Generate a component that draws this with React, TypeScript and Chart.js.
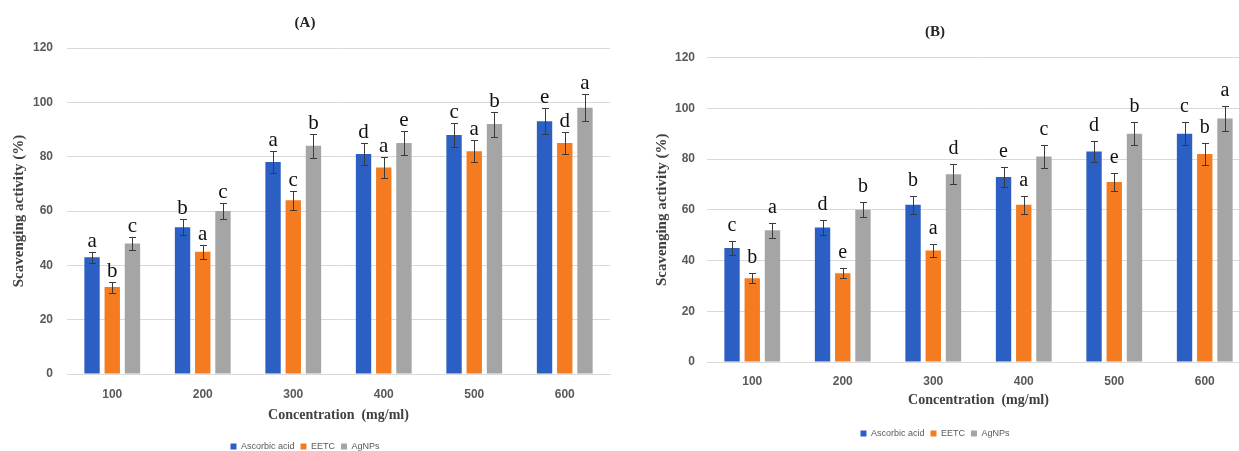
import React, { useEffect, useRef } from "react";
import { Chart, registerables } from "chart.js";

Chart.register(...registerables);

// ---------- data ----------
const categories = ["100", "200", "300", "400", "500", "600"];
const seriesNames = ["Ascorbic acid", "EETC", "AgNPs"];
const seriesColors = ["#2B5FC3", "#F47B20", "#A5A5A5"];

// Panel (A)
const aAscorbic = [43, 54, 78, 81, 88, 93];
const aEETC = [32, 45, 64, 76, 82, 85];
const aAgNPs = [48, 60, 84, 85, 92, 98];
const aAscorbicErr = [2, 3, 4, 4, 4.5, 4.8];
const aEETCErr = [2, 2.5, 3.5, 4, 4, 4.2];
const aAgNPsErr = [2.5, 3, 4.4, 4.3, 4.6, 5];
const aAscorbicLetters = ["a", "b", "a", "d", "c", "e"];
const aEETCLetters = ["b", "a", "c", "a", "a", "d"];
const aAgNPsLetters = ["c", "c", "b", "e", "b", "a"];

// Panel (B)
const bAscorbic = [45, 53, 62, 73, 83, 90];
const bEETC = [33, 35, 44, 62, 71, 82];
const bAgNPs = [52, 60, 74, 81, 90, 96];
const bAscorbicErr = [2.7, 3, 3.5, 4, 4, 4.5];
const bEETCErr = [2, 2, 2.5, 3.5, 3.6, 4.5];
const bAgNPsErr = [3, 3, 4, 4.5, 4.5, 5];
const bAscorbicLetters = ["c", "d", "b", "e", "d", "c"];
const bEETCLetters = ["b", "e", "a", "a", "e", "b"];
const bAgNPsLetters = ["a", "b", "d", "c", "b", "a"];

const yMin = 0;
const yMax = 120;
const yStep = 20;

const xTitle = "Concentration  (mg/ml)";
const yTitle = "Scavenging activity (%)";

// ---------- plugin: error bars + significance letters ----------
const errLetterPlugin = {
  id: "errLetters",
  afterDatasetsDraw(chart: any, _args: any, opts: any) {
    const ctx = chart.ctx;
    const yScale = chart.scales.y;
    chart.data.datasets.forEach((ds: any, i: number) => {
      const meta = chart.getDatasetMeta(i);
      meta.data.forEach((bar: any, j: number) => {
        const v = ds.data[j];
        const e = ds.errors[j];
        const yt = Math.round(yScale.getPixelForValue(v + e)) + 0.5;
        const yb = Math.round(yScale.getPixelForValue(v - e)) + 0.5;
        const x = Math.round(bar.x) + 0.5;
        const cap = 3.5;
        ctx.save();
        ctx.strokeStyle = "#3a3a3a";
        ctx.lineWidth = 1;
        ctx.beginPath();
        ctx.moveTo(x, yt);
        ctx.lineTo(x, yb);
        ctx.moveTo(x - cap, yt);
        ctx.lineTo(x + cap, yt);
        ctx.moveTo(x - cap, yb);
        ctx.lineTo(x + cap, yb);
        ctx.stroke();
        ctx.fillStyle = "#111111";
        ctx.font = opts.letterFont;
        ctx.textAlign = "center";
        ctx.textBaseline = "alphabetic";
        ctx.fillText(ds.letters[j], bar.x, yt - opts.letterGap);
        ctx.restore();
      });
    });
  },
};

type PanelCfg = {
  title: string;
  values: number[][];
  errors: number[][];
  letters: string[][];
  width: number;
  height: number;
  titlePad: { top: number; bottom: number };
  padRight: number;
  yAxisWidth: number;
  yTickPad: number;
  yTitlePad: number;
  xAxisHeight: number;
  xTickPad: number;
  xTitlePadBottom: number;
  letterFontSize: number;
  letterGap: number;
};

function Panel({ cfg, left }: { cfg: PanelCfg; left: number }) {
  const ref = useRef<HTMLCanvasElement | null>(null);
  useEffect(() => {
    if (!ref.current) return;
    const tickFont = { family: "'Liberation Sans', Arial, sans-serif", size: 12, weight: "bold" as const };
    const chart = new Chart(ref.current, {
      type: "bar",
      data: {
        labels: categories,
        datasets: seriesNames.map((name, i) => ({
          label: name,
          data: cfg.values[i],
          errors: cfg.errors[i],
          letters: cfg.letters[i],
          backgroundColor: seriesColors[i],
          borderWidth: 0,
          categoryPercentage: 0.67,
          barPercentage: 0.76,
        })) as any,
      },
      options: {
        animation: false,
        responsive: false,
        devicePixelRatio: 1,
        layout: { padding: { left: 0, right: cfg.padRight, top: 0, bottom: 0 } },
        plugins: {
          title: {
            display: true,
            text: cfg.title,
            color: "#262626",
            font: { family: "'Liberation Serif', 'Times New Roman', serif", size: 15, weight: "bold" },
            padding: cfg.titlePad,
          },
          legend: {
            display: true,
            position: "bottom",
            labels: {
              boxWidth: 6,
              boxHeight: 6,
              padding: 6,
              color: "#595959",
              font: { family: "'Liberation Sans', Arial, sans-serif", size: 9 },
            },
          },
          tooltip: { enabled: false },
          errLetters: {
            letterFont: `${cfg.letterFontSize}px 'Liberation Serif', 'Times New Roman', serif`,
            letterGap: cfg.letterGap,
          },
        } as any,
        scales: {
          x: {
            grid: { display: false },
            border: { display: true, color: "#D9D9D9" },
            ticks: { color: "#595959", font: tickFont, padding: cfg.xTickPad },
            title: {
              display: true,
              text: xTitle,
              color: "#404040",
              font: { family: "'Liberation Serif', 'Times New Roman', serif", size: 14, weight: "bold" },
              padding: { top: 0, bottom: cfg.xTitlePadBottom },
            },
            afterFit: (s: any) => {
              s.height = cfg.xAxisHeight;
            },
          },
          y: {
            min: yMin,
            max: yMax,
            grid: { color: "#D9D9D9", drawTicks: false },
            border: { display: false },
            ticks: { stepSize: yStep, color: "#595959", font: tickFont, padding: cfg.yTickPad },
            title: {
              display: true,
              text: yTitle,
              color: "#404040",
              font: { family: "'Liberation Serif', 'Times New Roman', serif", size: 15, weight: "bold" },
              padding: { top: cfg.yTitlePad, bottom: 0 },
            },
            afterFit: (s: any) => {
              s.width = cfg.yAxisWidth;
            },
          },
        },
      },
      plugins: [errLetterPlugin as any],
    });
    return () => chart.destroy();
  }, [cfg]);
  return (
    <canvas
      ref={ref}
      width={cfg.width}
      height={cfg.height}
      style={{ position: "absolute", left, top: 0, display: "block" }}
    />
  );
}

const panelA: PanelCfg = {
  title: "(A)",
  values: [aAscorbic, aEETC, aAgNPs],
  errors: [aAscorbicErr, aEETCErr, aAgNPsErr],
  letters: [aAscorbicLetters, aEETCLetters, aAgNPsLetters],
  width: 620,
  height: 461,
  titlePad: { top: 14, bottom: 16 },
  padRight: 10,
  yAxisWidth: 67,
  yTickPad: 14,
  yTitlePad: 10,
  xAxisHeight: 62,
  xTickPad: 5,
  xTitlePadBottom: 12.6,
  letterFontSize: 21,
  letterGap: 6,
};

const panelB: PanelCfg = {
  title: "(B)",
  values: [bAscorbic, bEETC, bAgNPs],
  errors: [bAscorbicErr, bEETCErr, bAgNPsErr],
  letters: [bAscorbicLetters, bEETCLetters, bAgNPsLetters],
  width: 660,
  height: 448,
  titlePad: { top: 23, bottom: 16.7 },
  padRight: 30,
  yAxisWidth: 87,
  yTickPad: 12,
  yTitlePad: 33,
  xAxisHeight: 61,
  xTickPad: 4,
  xTitlePadBottom: 14.6,
  letterFontSize: 20,
  letterGap: 11,
};

export default function App() {
  return (
    <div
      style={{
        position: "fixed",
        left: 0,
        top: 0,
        width: 1239,
        height: 451,
        overflow: "hidden",
        background: "#ffffff",
      }}
    >
      <Panel cfg={panelA} left={0} />
      <Panel cfg={panelB} left={620} />
    </div>
  );
}
